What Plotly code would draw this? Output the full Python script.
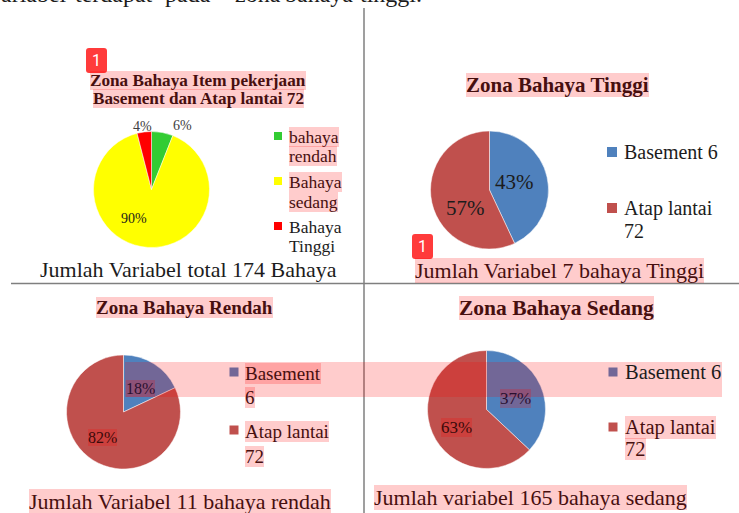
import plotly.graph_objects as go

W, H = 739, 513

# ---- data ----
overall_labels = ["bahaya rendah", "Bahaya sedang", "Bahaya Tinggi"]
overall_values = [6, 90, 4]
zone_labels = ["Basement 6", "Atap lantai 72"]
tinggi_values = [43, 57]
rendah_values = [18, 82]
sedang_values = [37, 63]

overall_colors = ["#33CC33", "#FFFF00", "#FF0000"]
zone_colors = ["#4F81BD", "#C0504D"]

top_text = "variabel terdapat pada zona bahaya tinggi."
title_overall = ["Zona Bahaya Item pekerjaan", "Basement dan Atap lantai 72"]
title_tinggi = "Zona Bahaya Tinggi"
title_rendah = "Zona Bahaya Rendah"
title_sedang = "Zona Bahaya Sedang"
foot_overall = "Jumlah Variabel total 174 Bahaya"
foot_tinggi = "Jumlah Variabel 7 bahaya Tinggi"
foot_rendah = "Jumlah Variabel 11 bahaya rendah"
foot_sedang = "Jumlah variabel 165 bahaya sedang"

FONT = "Liberation Serif"
INK = "#1c1c1c"
HL_INK = "#470f0f"
HL = "rgba(255,0,0,0.2)"

px = lambda x: x / W
py = lambda y: 1 - y / H

fig = go.Figure()


def pie(labels, values, colors, cx, cy, r):
    fig.add_trace(go.Pie(
        labels=labels, values=values, sort=False, direction="clockwise", rotation=0,
        marker=dict(colors=colors, line=dict(color="white", width=0.5)),
        textinfo="none", hoverinfo="label+percent", showlegend=False,
        domain=dict(x=[px(cx - r), px(cx + r)], y=[py(cy + r), py(cy - r)]),
    ))


annotations, shapes = [], []


def text(s, x, y, size, anchor="center", bold=False, hl=False, color=None):
    annotations.append(dict(
        text=f"<b>{s}</b>" if bold else s, x=px(x), y=py(y), xref="paper", yref="paper",
        xanchor=anchor, yanchor="middle", showarrow=False, borderpad=0, borderwidth=0,
        font=dict(family=FONT, size=size, color=color or (HL_INK if hl else INK)),
        bgcolor=HL if hl else "rgba(0,0,0,0)",
    ))


def square(x, y, s, color):
    shapes.append(dict(type="rect", xref="paper", yref="paper", layer="below",
                       x0=px(x - s / 2), x1=px(x + s / 2), y0=py(y + s / 2), y1=py(y - s / 2),
                       fillcolor=color, line=dict(width=0)))


def badge(x0, y0, x1, y1):
    rr = 3
    path = (f"M {px(x0 + rr)} {py(y0)} L {px(x1 - rr)} {py(y0)} Q {px(x1)} {py(y0)} {px(x1)} {py(y0 + rr)} "
            f"L {px(x1)} {py(y1 - rr)} Q {px(x1)} {py(y1)} {px(x1 - rr)} {py(y1)} "
            f"L {px(x0 + rr)} {py(y1)} Q {px(x0)} {py(y1)} {px(x0)} {py(y1 - rr)} "
            f"L {px(x0)} {py(y0 + rr)} Q {px(x0)} {py(y0)} {px(x0 + rr)} {py(y0)} Z")
    shapes.append(dict(type="path", path=path, xref="paper", yref="paper", layer="above",
                       fillcolor="#FF3B3B", line=dict(width=0)))
    annotations.append(dict(text="1", x=px((x0 + x1) / 2), y=py((y0 + y1) / 2), xref="paper", yref="paper",
                            xanchor="center", yanchor="middle", showarrow=False,
                            font=dict(family="Roboto", size=16, color="white")))


# ---- pies ----
pie(overall_labels, overall_values, overall_colors, 151.5, 189.5, 58)
pie(zone_labels, tinggi_values, zone_colors, 489.5, 190, 59)
pie(zone_labels, rendah_values, zone_colors, 123.5, 412, 57)
pie(zone_labels, sedang_values, zone_colors, 486.5, 409.5, 59)

# ---- dividers ----
for x0, y0, x1, y1 in [(364, 8, 364, 513), (11, 283.5, 739, 283.5)]:
    shapes.append(dict(type="line", xref="paper", yref="paper", layer="below",
                       x0=px(x0), x1=px(x1), y0=py(y0), y1=py(y1),
                       line=dict(color="#7f7f7f", width=1.5)))

# ---- cropped, justified sentence at the very top ----
for word, left in zip(top_text.split(), [-11, 75, 165, 235, 285, 360]):
    text(word, left, -6, 24, anchor="left")

# ---- overall panel ----
text(title_overall[0], 198, 80, 17.2, bold=True, hl=True)
text(title_overall[1], 198, 98, 17.2, bold=True, hl=True)
text(f"{overall_values[2]}%", 142, 126, 14, color="#404040")
text(f"{overall_values[0]}%", 182, 125, 14, color="#404040")
text(f"{overall_values[1]}%", 134, 218, 14)
square(278, 136, 8, overall_colors[0])
square(278, 181, 8, overall_colors[1])
square(278, 226, 8, overall_colors[2])
for s, y, hl in [("bahaya", 137, True), ("rendah", 156, True), ("Bahaya", 182, True),
                 ("sedang", 202, True), ("Bahaya", 227, False), ("Tinggi", 246, False)]:
    text(s, 289, y, 17.5, anchor="left", hl=hl)
text(foot_overall, 188, 269, 22)

# ---- tinggi panel ----
text(title_tinggi, 557, 85, 21, bold=True, hl=True)
text(f"{tinggi_values[0]}%", 514, 182, 21)
text(f"{tinggi_values[1]}%", 465, 208, 21)
square(612, 152, 10, zone_colors[0])
square(612, 208, 10, zone_colors[1])
text(zone_labels[0], 624, 152, 20, anchor="left")
text("Atap lantai", 624, 208, 20, anchor="left")
text("72", 624, 231, 20, anchor="left")
text(foot_tinggi, 559.5, 270, 22, hl=True)

# ---- rendah panel ----
text(title_rendah, 184, 307, 19, bold=True, hl=True)
text(f"{rendah_values[0]}%", 140, 388, 16, hl=True, color="#2a1030")
text(f"{rendah_values[1]}%", 102, 437, 16, hl=True, color="#3a0a0a")
square(234, 372, 9, zone_colors[0])
square(234, 430, 9, zone_colors[1])
text("Basement", 245, 373, 19, anchor="left", hl=True)
text("6", 245, 397, 19, anchor="left", hl=True)
text("Atap lantai", 245, 431, 19, anchor="left", hl=True)
text("72", 245, 456, 19, anchor="left", hl=True)
text(foot_rendah, 180, 501, 22, hl=True)

# ---- sedang panel ----
text(title_sedang, 556, 308, 21.5, bold=True, hl=True)
text(f"{sedang_values[0]}%", 515, 398, 17, hl=True, color="#2a1030")
text(f"{sedang_values[1]}%", 456, 427, 17, hl=True, color="#3a0a0a")
square(613, 372, 9, zone_colors[0])
square(613, 427, 9, zone_colors[1])
text(zone_labels[0], 625, 372, 20.5, anchor="left")
text("Atap lantai", 625, 427, 20.5, anchor="left", hl=True)
text("72", 625, 449, 20.5, anchor="left", hl=True)
text(foot_sedang, 530.5, 497, 22, hl=True)

# ---- wide highlight band and badges ----
shapes.append(dict(type="rect", xref="paper", yref="paper", layer="above",
                   x0=px(125), x1=px(722), y0=py(397), y1=py(362),
                   fillcolor=HL, line=dict(width=0)))
badge(86, 48, 107, 73)
badge(412, 234, 433, 259)

fig.update_layout(width=W, height=H, margin=dict(l=0, r=0, t=0, b=0),
                  paper_bgcolor="white", plot_bgcolor="white",
                  annotations=annotations, shapes=shapes,
                  font=dict(family=FONT))
fig.write_html("out.html", config=dict(displayModeBar=False),
               post_script="document.body.style.margin='0';")
